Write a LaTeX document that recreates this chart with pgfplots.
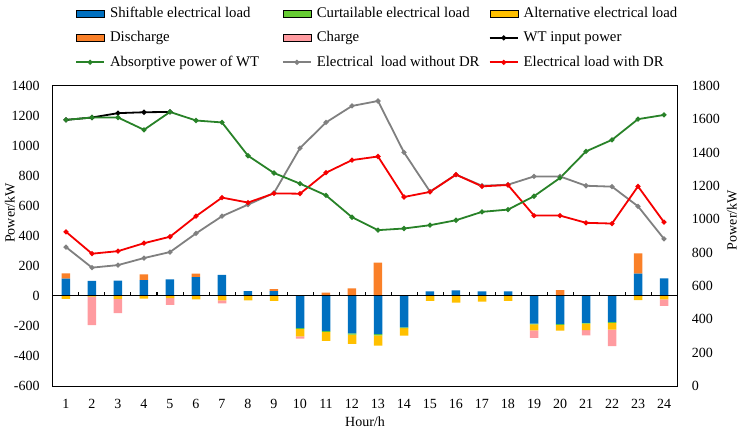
\documentclass[border=0pt]{standalone}
\usepackage{fontspec}
\setmainfont{Liberation Serif}
\usepackage{pgfplots}
\usepackage{pgfplotstable}
\pgfplotsset{compat=1.18}
\definecolor{cShift}{RGB}{0,112,192}
\definecolor{cCurt}{RGB}{102,204,51}
\definecolor{cAlt}{RGB}{255,192,0}
\definecolor{cDis}{RGB}{250,128,40}
\definecolor{cChg}{RGB}{255,155,160}
\definecolor{cWT}{RGB}{40,130,40}
\definecolor{cGray}{RGB}{128,128,128}
\definecolor{cRed}{RGB}{245,0,0}

\pgfplotstableread{
h sp dis sn cur alt chg
1 115 35 0 0 -20 0
2 100 0 0 0 -5 -190
3 102 0 0 0 -20 -95
4 106 38 0 0 -18 0
5 111 0 0 0 -15 -45
6 126 23 0 0 -22 0
7 140 0 0 0 -30 -20
8 33 0 0 0 -29 0
9 33 13 0 0 -33 0
10 0 0 -215 -5 -50 -15
11 0 22 -235 -5 -60 0
12 0 51 -250 -8 -62 0
13 0 222 -255 -8 -68 0
14 0 0 -210 -5 -50 0
15 31 0 0 0 -33 0
16 38 0 0 0 -44 0
17 31 0 0 0 -38 0
18 31 0 0 0 -33 0
19 0 0 -185 -5 -40 -50
20 0 40 -188 -5 -38 0
21 0 0 -180 -5 -42 -35
22 0 0 -175 -5 -45 -110
23 149 135 0 0 -27 0
24 118 0 0 0 -22 -44
}\bars

\pgfplotstableread{
h wt nodr dr
1 1174 326 428
2 1190 189 282
3 1190 206 299
4 1108 253 352
5 1227 293 395
6 1170 417 532
7 1157 532 656
8 935 609 623
9 820 687 684
10 749 986 682
11 671 1157 822
12 525 1267 906
13 439 1300 930
14 450 957 660
15 472 696 694
16 505 809 809
17 561 735 731
18 576 742 740
19 665 797 536
20 787 797 536
21 964 735 488
22 1041 729 483
23 1179 598 731
24 1207 381 492
}\lines

\newcommand\LE[1]{\makebox[165pt][l]{#1}}
\newcommand\fnt{\fontsize{14}{16}\selectfont}
\newcommand\lfnt{\fontsize{14.8}{17}\selectfont}

\pgfplotsset{
  common/.style={width=624pt,height=300pt,scale only axis,
    xmin=0.5,xmax=24.5,ymin=-600,ymax=1400,
    at={(0pt,0pt)},anchor=south west},
  barimg/.style={legend image code/.code={\fill[##1] (0pt,-3.5pt) rectangle (28pt,3.5pt);}},
  lineimg/.style={legend image code/.code={\draw[mark repeat=2,mark phase=2,##1] plot coordinates {(0pt,0pt) (14pt,0pt) (28pt,0pt)};}},
}

\begin{document}
\fnt
\begin{tikzpicture}
\path[use as bounding box] (-53pt,-43pt) rectangle (687pt,386pt);

% positive bars + frame
\begin{axis}[common, ybar stacked, bar width=8.5pt,
  xtick={1,...,24}, ytick={-600,-400,...,1400},
  major tick length=0pt,
  axis line style={black,line width=1pt},
  tick label style={/pgf/number format/assume math mode=true,/pgf/number format/1000 sep={},font=\fnt},
  xticklabel style={yshift=-8pt},
  yticklabel style={xshift=-8.5pt},
  xlabel={Hour/h}, ylabel={Power/kW},
  label style={font=\fnt},
  xlabel style={at={(axis description cs:0.5,-0.12)},anchor=center},
  ylabel style={at={(axis description cs:-0.069,0.577)},anchor=center},
]
\addplot[fill=cShift,draw=none] table[x=h,y=sp] {\bars};
\addplot[fill=cDis,draw=none] table[x=h,y=dis] {\bars};
\end{axis}

% negative bars
\begin{axis}[common, ybar stacked, bar width=8.5pt, hide axis]
\addplot[fill=cShift,draw=none] table[x=h,y=sn] {\bars};
\addplot[fill=cCurt,draw=none] table[x=h,y=cur] {\bars};
\addplot[fill=cAlt,draw=none] table[x=h,y=alt] {\bars};
\addplot[fill=cChg,draw=none] table[x=h,y=chg] {\bars};
\end{axis}

% zero line with category ticks
\begin{axis}[common, axis y line=none, axis x line=middle,
  axis line style={-,black,line width=1pt},
  xtick={1.5,2.5,...,23.5}, xticklabels={},
  xtick align=inside, major tick length=4pt,
  tick style={black,line width=1pt}]
\addplot[draw=none] coordinates {(1,0)};
\end{axis}

% lines + legend
\begin{axis}[common, hide axis,
  legend columns=3,
  legend style={draw=none,fill=none,font=\lfnt,inner sep=0pt,
    at={(axis description cs:0.0353,1.27)},anchor=north west,
    nodes={inner sep=2pt},
    /tikz/every odd column/.style={column sep=3pt},
    /tikz/every even column/.style={column sep=5pt},
    row sep=8pt},
  legend cell align=left]
\addlegendimage{barimg,fill=cShift}\addlegendentry{\LE{Shiftable electrical load}}
\addlegendimage{barimg,fill=cCurt}\addlegendentry{\LE{Curtailable electrical load}}
\addlegendimage{barimg,fill=cAlt}\addlegendentry{\LE{Alternative electrical load}}
\addlegendimage{barimg,fill=cDis}\addlegendentry{\LE{Discharge}}
\addlegendimage{barimg,fill=cChg}\addlegendentry{\LE{Charge}}
\addlegendimage{lineimg,black,line width=1.8pt,mark=*,mark size=1.5pt}\addlegendentry{\LE{WT input power}}
\addlegendimage{lineimg,cWT,line width=1.8pt,mark=*,mark size=1.5pt}\addlegendentry{\LE{Absorptive power of WT}}
\addlegendimage{lineimg,cGray,line width=1.8pt,mark=*,mark size=1.5pt}\addlegendentry{\LE{Electrical\ \ load without DR}}
\addlegendimage{lineimg,cRed,line width=1.8pt,mark=*,mark size=1.5pt}\addlegendentry{\LE{Electrical load with DR}}

\addplot[forget plot,cGray,line width=1.8pt,mark=*,mark size=1.5pt] table[x=h,y=nodr] {\lines};
\addplot[forget plot,cRed,line width=1.8pt,mark=*,mark size=1.5pt] table[x=h,y=dr] {\lines};
\addplot[forget plot,black,line width=1.8pt,mark=*,mark size=1.5pt] coordinates {(1,1174) (2,1190) (3,1219) (4,1225) (5,1227)};
\addplot[forget plot,cWT,line width=1.8pt,mark=*,mark size=1.5pt] table[x=h,y=wt] {\lines};
\end{axis}

% right axis
\begin{axis}[width=624pt,height=300pt,scale only axis,at={(0pt,0pt)},anchor=south west,
  xmin=0.5,xmax=24.5,ymin=0,ymax=1800,
  axis x line=none, axis y line*=right,
  axis line style={black,line width=1pt},
  ytick={0,200,...,1800}, major tick length=0pt,
  tick label style={/pgf/number format/assume math mode=true,/pgf/number format/1000 sep={},font=\fnt},
  yticklabel style={xshift=10pt},
  ylabel={Power/kW}, label style={font=\fnt},
  ylabel style={at={(axis description cs:1.088,0.553)},anchor=center}]
\addplot[draw=none] coordinates {(1,0)};
\end{axis}
\end{tikzpicture}
\end{document}
